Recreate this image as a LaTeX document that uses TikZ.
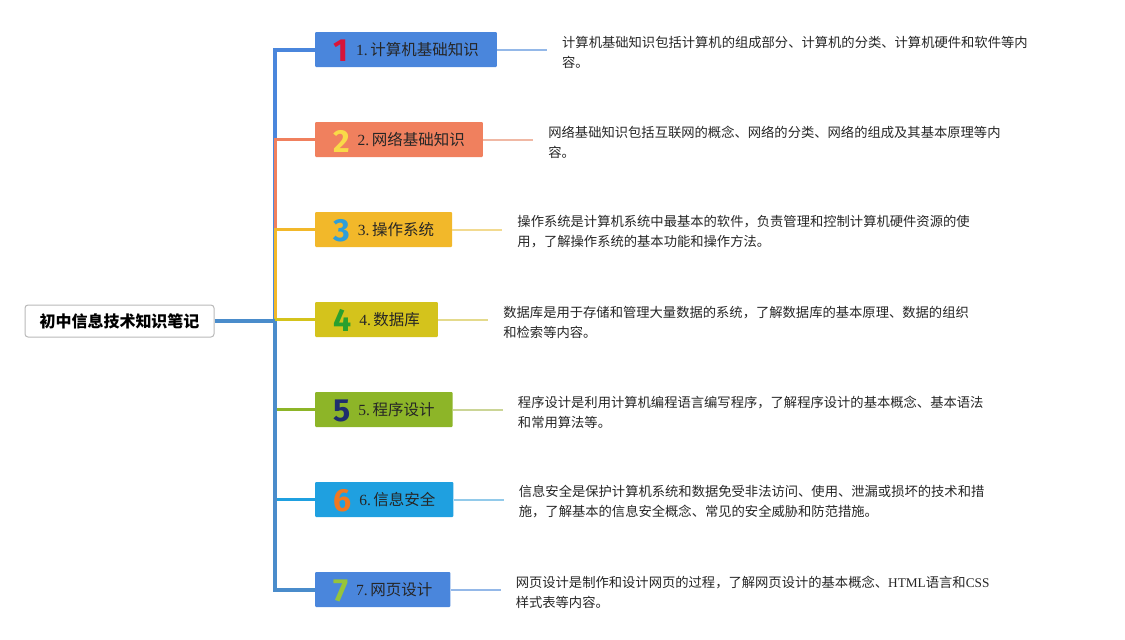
\documentclass[tikz,border=0pt]{standalone}
\usepackage{fontspec}
\usepackage{xcolor}
\usetikzlibrary{positioning}
\setmainfont{Noto Sans CJK SC}
\newfontfamily\lat{Liberation Serif}
\newfontfamily\numfont{Fira Sans}

\definecolor{astEins}{HTML}{4A86DC}
\definecolor{astZwei}{HTML}{F0805E}
\definecolor{astDrei}{HTML}{F2B82A}
\definecolor{astVier}{HTML}{D4C31C}
\definecolor{astFuenf}{HTML}{8DB528}
\definecolor{astSechs}{HTML}{1FA0E0}
\definecolor{astSieben}{HTML}{4A86DC}
\definecolor{stamm}{HTML}{4A8CCB}
\definecolor{leitEins}{HTML}{94B8E8}
\definecolor{leitZwei}{HTML}{F0B8A4}
\definecolor{leitDrei}{HTML}{F2DA90}
\definecolor{leitVier}{HTML}{E4DA8C}
\definecolor{leitFuenf}{HTML}{CBD596}
\definecolor{leitSechs}{HTML}{92CAEA}
\definecolor{leitSieben}{HTML}{94B8E8}

\begin{document}
\begin{tikzpicture}[x=1pt,y=-1pt,
    wurzel/.style={draw=gray!55,line width=1pt,rounded corners=3pt,fill=white,
      minimum width=189pt,minimum height=32pt,
      font=\fontsize{16}{16}\selectfont\bfseries},
    thema/.style={anchor=west,minimum height=35pt,inner xsep=18pt,rounded corners=1pt,
      text=black!85,font=\fontsize{15.5}{16}\selectfont},
    notiz/.style={align=left,inner xsep=15pt,inner ysep=0pt,text=black!85,
      font=\fontsize{13.3}{20}\selectfont},
    ast/.style={line width=3pt},
    leit/.style={line width=2pt}]
    \pgfmathsetmacro{\stammX}{275}
    \newcommand{\zahl}[2]{\raisebox{-6.5pt}[0pt][0pt]{\numfont\bfseries\fontsize{32}{32}\selectfont\color[HTML]{#1}#2}\hspace{8pt}}

    \useasboundingbox (0,0) rectangle (1125,640);

    % Wurzel
    \node[wurzel] (root) at (119.5,321) {初中信息技术知识笔记};
    \coordinate (trunk) at (\stammX,321);

    % Themen
    \node[thema,fill=astEins] (b1) at (315,49.5) {\zahl{D8143A}{1}{\lat 1.}\,计算机基础知识};
    \node[thema,fill=astZwei] (b2) at (315,139.5) {\zahl{F9DA48}{2}{\lat 2.}\,网络基础知识};
    \node[thema,fill=astDrei] (b3) at (315,229.5) {\zahl{2E9ED8}{3}{\lat 3.}\,操作系统};
    \node[thema,fill=astVier] (b4) at (315,319.5) {\zahl{2AA02E}{4}{\lat 4.}\,数据库};
    \node[thema,fill=astFuenf] (b5) at (315,409.5) {\zahl{1F2E6E}{5}{\lat 5.}\,程序设计};
    \node[thema,fill=astSechs] (b6) at (315,499.5) {\zahl{F07822}{6}{\lat 6.}\,信息安全};
    \node[thema,fill=astSieben] (b7) at (315,589.5) {\zahl{96C43A}{7}{\lat 7.}\,网页设计};

    % Beschreibungen
    \node[notiz,anchor=west,right=50pt of b1,yshift=-2.5pt] (d1) {计算机基础知识包括计算机的组成部分、计算机的分类、计算机硬件和软件等内\\容。};
    \node[notiz,anchor=west,right=50pt of b2,yshift=-2.5pt] (d2) {网络基础知识包括互联网的概念、网络的分类、网络的组成及其基本原理等内\\容。};
    \node[notiz,anchor=west,right=50pt of b3,yshift=-2.5pt] (d3) {操作系统是计算机系统中最基本的软件，负责管理和控制计算机硬件资源的使\\用，了解操作系统的基本功能和操作方法。};
    \node[notiz,anchor=west,right=50pt of b4,yshift=-2.5pt] (d4) {数据库是用于存储和管理大量数据的系统，了解数据库的基本原理、数据的组织\\和检索等内容。};
    \node[notiz,anchor=west,right=50pt of b5,yshift=-2.5pt] (d5) {程序设计是利用计算机编程语言编写程序，了解程序设计的基本概念、基本语法\\和常用算法等。};
    \node[notiz,anchor=west,right=50pt of b6,yshift=-2.5pt] (d6) {信息安全是保护计算机系统和数据免受非法访问、使用、泄漏或损坏的技术和措\\施，了解基本的信息安全概念、常见的安全威胁和防范措施。};
    \node[notiz,anchor=west,right=50pt of b7,yshift=-2.5pt] (d7) {网页设计是制作和设计网页的过程，了解网页设计的基本概念、{\lat HTML}语言和{\lat CSS}\\样式表等内容。};

    % Aeste oben
    \draw[ast,astEins,line width=4pt] (trunk) |- (b1.west);
    \draw[ast,astZwei] (trunk) |- (b2.west);
    \draw[ast,astDrei] (trunk) |- (b3.west);
    \draw[ast,astVier] (trunk) |- (b4.west);

    % Aeste unten
    \draw[ast,astFuenf] (trunk) |- (b5.west);
    \draw[ast,astSechs] (trunk) |- (b6.west);
    \draw[ast,stamm,line width=4pt] (trunk) |- (b7.west);
    \draw[ast,stamm,line width=4pt] (root.east) -- (trunk);

    % Leitlinien
    \draw[leit,leitEins] (b1.east) -- (d1.west |- b1.east);
    \draw[leit,leitZwei] (b2.east) -- (d2.west |- b2.east);
    \draw[leit,leitDrei] (b3.east) -- (d3.west |- b3.east);
    \draw[leit,leitVier] (b4.east) -- (d4.west |- b4.east);
    \draw[leit,leitFuenf] (b5.east) -- (d5.west |- b5.east);
    \draw[leit,leitSechs] (b6.east) -- (d6.west |- b6.east);
    \draw[leit,leitSieben] (b7.east) -- (d7.west |- b7.east);
\end{tikzpicture}
\end{document}
